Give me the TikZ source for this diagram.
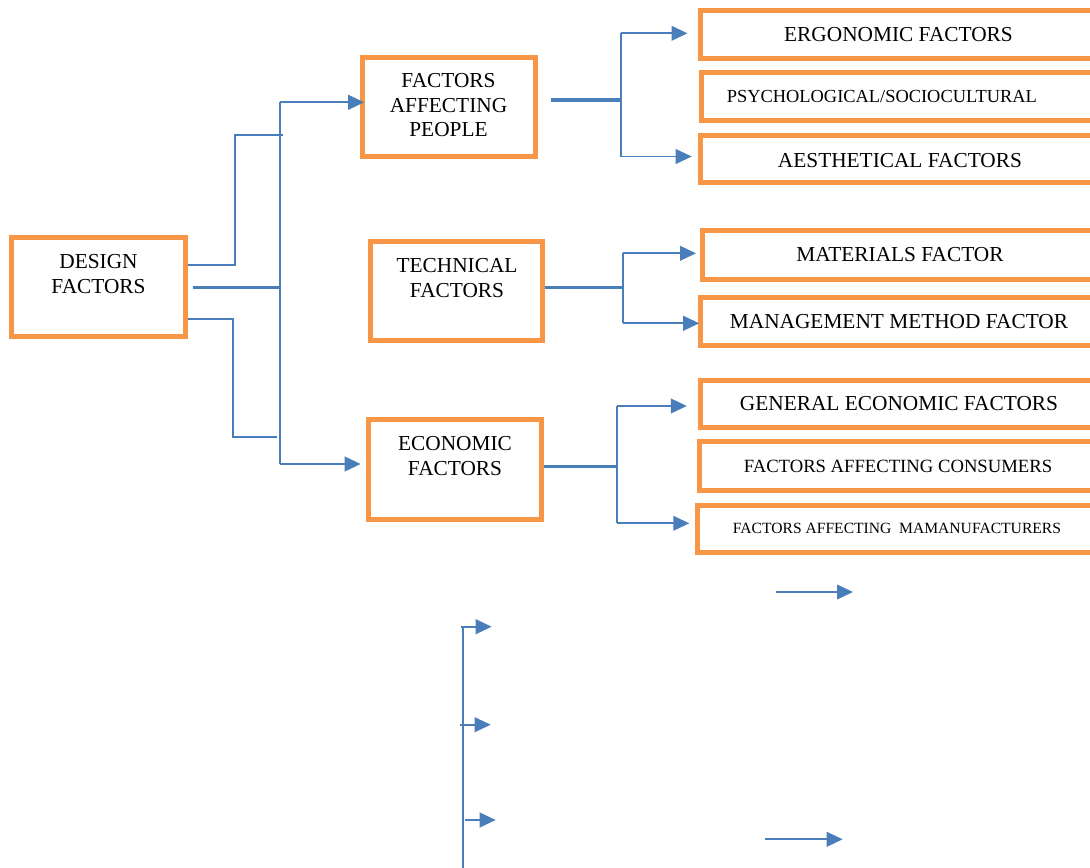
\documentclass[tikz,border=0pt]{standalone}
\usepackage{fontspec}
\setmainfont{Liberation Serif}
\usetikzlibrary{arrows.meta,fit}
\definecolor{orng}{RGB}{247,150,70}
\definecolor{blu}{RGB}{74,126,187}
\begin{document}
\begin{tikzpicture}[x=0.75pt,y=-0.75pt,
  obox/.style={draw=orng,line width=3.75pt,rectangle,inner sep=0pt},
  thinln/.style={draw=blu,line width=1.4pt},
  thickln/.style={draw=blu,line width=2.6pt},
  midln/.style={draw=blu,line width=2pt},
  arr/.style={thinln,-{Triangle[length=12pt,width=11pt]}},
  big/.style={font=\fontsize{16}{18.75}\selectfont,align=center,inner sep=0pt},
  rbig/.style={font=\fontsize{16}{18.75}\selectfont,inner sep=0pt},
  rsmall/.style={inner sep=0pt},
]
\path[use as bounding box] (0,0) rectangle (1090,868);
\clip (0,0) rectangle (1090,868);

% main boxes
\node[obox,fit={(11.5,237) (185,336.7)}] (design) {};
\node[big] (designt) at (98.5,274.2) {DESIGN\\FACTORS};
\node[obox,fit={(362,57) (535,156)}] (people) {};
\node[big,font=\fontsize{16}{18.4}\selectfont] (peoplet) at (448.5,105.5) {FACTORS\\AFFECTING\\PEOPLE};
\node[obox,fit={(370,241.5) (542,340)}] (tech) {};
\node[big] (techt) at (457,278.5) {TECHNICAL\\FACTORS};
\node[obox,fit={(368.5,419) (541.5,519)}] (econ) {};
\node[big] (econt) at (455,456.5) {ECONOMIC\\FACTORS};

% right boxes
\node[obox,fit={(700,10) (1097,58.3)}] (ergo) {};
\node[rbig] (ergot) at ([yshift=-0.6pt]ergo.center) {ERGONOMIC FACTORS};
\node[obox,fit={(701.5,72) (1097,120)}] (psych) {};
\node[rsmall,font=\fontsize{13.8}{16}\selectfont] (psycht) at ([xshift=-13pt,yshift=-0.6pt]psych.center) {PSYCHOLOGICAL/SOCIOCULTURAL};
\node[obox,fit={(700.2,135) (1097,182.5)}] (aest) {};
\node[rbig] (aestt) at ([xshift=1pt,yshift=-1pt]aest.center) {AESTHETICAL FACTORS};
\node[obox,fit={(702.5,230) (1097,279)}] (mat) {};
\node[rbig] (matt) at (900,254.5) {MATERIALS FACTOR};
\node[obox,fit={(700,297) (1097,345)}] (mgmt) {};
\node[rbig] (mgmtt) at (899,321.5) {MANAGEMENT METHOD FACTOR};
\node[obox,fit={(700,380) (1097,427.5)}] (gen) {};
\node[rbig] (gent) at (899,404) {GENERAL ECONOMIC FACTORS};
\node[obox,fit={(699,441.5) (1097,490)}] (cons) {};
\node[rsmall,font=\fontsize{14}{16}\selectfont] (const) at (898,466) {FACTORS AFFECTING CONSUMERS};
\node[obox,fit={(697.5,505) (1097,552.5)}] (manu) {};
\node[rsmall,font=\fontsize{11.7}{14}\selectfont] (manut) at (897,528) {FACTORS AFFECTING\ \ MAMANUFACTURERS};

% design connectors
\coordinate (du) at (235,135);
\coordinate (dl) at (233,437.3);
\coordinate (ta) at (280,102.3);
\coordinate (tb) at (280,464);
\draw[thinln] (design.east |- 0,264.7) -| (du) -- ++(48,0);
\draw[thinln] (design.east |- 0,319.3) -| (dl) -- ++(44.3,0);
\draw[thickln] ([xshift=4pt]design.east |- 0,287.7) -- (280,287.7);
\draw[thinln] (ta) -- (tb);
\draw[arr,shorten >=-3.5pt] (ta) -- (ta -| people.west);
\draw[arr,shorten >=4pt] (tb) -- (tb -| econ.west);

% people branch
\coordinate (pa) at (621,33.3);
\coordinate (pb) at (621,156.5);
\draw[thickln] ([xshift=10pt]people.east |- 0,100) -- (621,100);
\draw[thinln] (pa) -- (pb);
\draw[arr,shorten >=7.5pt] (pa) -- (pa -| ergo.west);
\draw[arr,shorten >=4.5pt] (pb) -- (pb -| aest.west);

% technical branch
\coordinate (qa) at (622.7,253.3);
\coordinate (qb) at (622.7,323.3);
\draw[midln] (tech.east |- 0,287.7) -- (622.7,287.7);
\draw[thinln] (qa) -- (qb);
\draw[arr,shorten >=3pt] (qa) -- (qa -| mat.west);
\draw[arr,shorten >=-1.3pt] (qb) -- (qb -| mgmt.west);

% economic branch
\coordinate (ra) at (617.3,406);
\coordinate (rb) at (617.3,523.3);
\draw[midln] (econ.east |- 0,466.7) -- (617.3,466.7);
\draw[thinln] (ra) -- (rb);
\draw[arr,shorten >=8pt] (ra) -- (ra -| gen.west);
\draw[arr,shorten >=4.3pt] (rb) -- (rb -| manu.west);

% stray arrows at the bottom
\coordinate (sa) at (462.7,626.7);
\coordinate (sb) at (462.7,868);
\draw[thinln] (sa) -- (sb);
\coordinate (s1) at (460.7,626.7);
\coordinate (s1e) at (491.7,626.7);
\coordinate (s2) at (460,724.7);
\coordinate (s2e) at (490.7,724.7);
\coordinate (s3) at (465,820);
\coordinate (s3e) at (495.7,820);
\coordinate (s4) at (776,592);
\coordinate (s4e) at (853,592);
\coordinate (s5) at (765,839.3);
\coordinate (s5e) at (842.7,839.3);
\draw[arr] (s1) -- (s1e);
\draw[arr] (s2) -- (s2e);
\draw[arr] (s3) -- (s3e);
\draw[arr] (s4) -- (s4e);
\draw[arr] (s5) -- (s5e);
\end{tikzpicture}
\end{document}
